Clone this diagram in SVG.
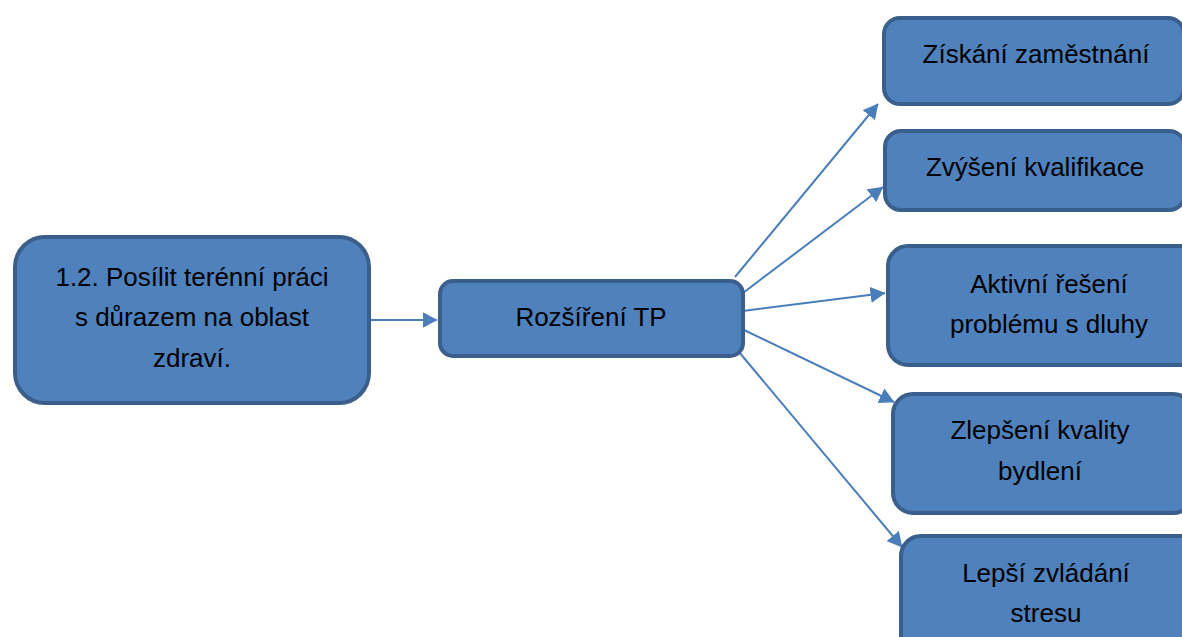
<svg xmlns="http://www.w3.org/2000/svg" width="1182" height="637" viewBox="0 0 1182 637">
<style>
.box{fill:#4F81BD;stroke:#3A5F8C;stroke-width:4}
.lbl{font-family:"Liberation Sans",Arial,sans-serif;font-size:26px;fill:#000;text-anchor:middle}
.con{stroke:#4A7EBB;stroke-width:2;fill:none;marker-end:url(#ah)}
</style>
<defs>
<marker id="ah" viewBox="0 0 15 16" refX="14.5" refY="8" markerWidth="15" markerHeight="16" markerUnits="userSpaceOnUse" orient="auto">
<path d="M0,0 L15,8 L0,16 Z" fill="#4A7EBB"/>
</marker>
</defs>
<rect width="1182" height="637" fill="#fff"/>
<g id="connectors">
<line class="con" x1="371" y1="320" x2="437" y2="320"/>
<line class="con" x1="735" y1="277" x2="878" y2="104"/>
<line class="con" x1="743" y1="293" x2="883" y2="187"/>
<line class="con" x1="743" y1="311" x2="885" y2="293"/>
<line class="con" x1="742" y1="329" x2="894" y2="402"/>
<line class="con" x1="739" y1="352" x2="902" y2="547"/>
</g>
<g id="n-goal">
<rect class="box" x="15" y="237" width="354" height="166" rx="30"/>
<text class="lbl" x="192" y="286">1.2. Posílit terénní práci</text>
<text class="lbl" x="192" y="326">s důrazem na oblast</text>
<text class="lbl" x="192" y="367">zdraví.</text>
</g>
<g id="n-tp">
<rect class="box" x="440" y="281" width="303" height="75" rx="13"/>
<text class="lbl" x="591" y="326">Rozšíření TP</text>
</g>
<g id="n-zamestnani">
<rect class="box" x="884" y="18" width="300" height="86" rx="16"/>
<text class="lbl" x="1036" y="63">Získání zaměstnání</text>
</g>
<g id="n-kvalifikace">
<rect class="box" x="885" y="131" width="300" height="79" rx="16"/>
<text class="lbl" x="1035" y="176">Zvýšení kvalifikace</text>
</g>
<g id="n-dluhy">
<rect class="box" x="888" y="246" width="320" height="119" rx="20"/>
<text class="lbl" x="1049" y="293">Aktivní řešení</text>
<text class="lbl" x="1049" y="333">problému s dluhy</text>
</g>
<g id="n-bydleni">
<rect class="box" x="893" y="394" width="300" height="119" rx="20"/>
<text class="lbl" x="1040" y="439">Zlepšení kvality</text>
<text class="lbl" x="1040" y="480">bydlení</text>
</g>
<g id="n-stres">
<rect class="box" x="901" y="536" width="300" height="130" rx="20"/>
<text class="lbl" x="1046" y="582">Lepší zvládání</text>
<text class="lbl" x="1046" y="622">stresu</text>
</g>
</svg>
